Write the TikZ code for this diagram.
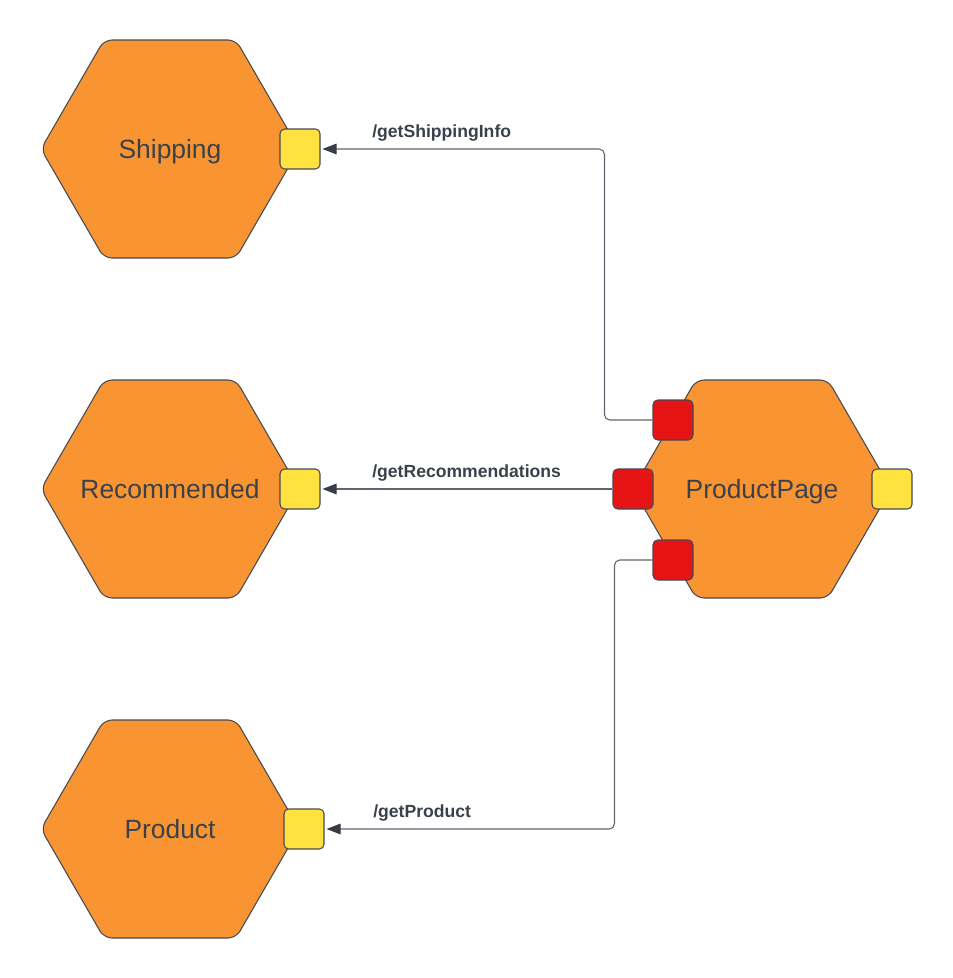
\documentclass[tikz,border=0pt]{standalone}
\usepackage{fontspec}
\setmainfont{Liberation Sans}
\usetikzlibrary{arrows.meta}
\definecolor{hexfill}{RGB}{249,148,51}
\definecolor{portyellow}{RGB}{255,225,64}
\definecolor{portred}{RGB}{230,20,20}
\definecolor{edgegrey}{RGB}{70,74,82}
\definecolor{txt}{RGB}{58,65,74}
\definecolor{linegrey}{RGB}{95,100,110}
\definecolor{tipgrey}{RGB}{55,60,70}
\tikzset{
  hexshape/.style={fill=hexfill, draw=edgegrey, line width=0.8pt, rounded corners=6pt},
  hexlabel/.style={text=txt, font=\fontsize{19.8pt}{23pt}\selectfont, inner sep=0pt, anchor=base},
  port/.style={draw=edgegrey, line width=0.8pt, rounded corners=3.5pt, minimum size=30pt, inner sep=0pt},
  yport/.style={port, fill=portyellow},
  rport/.style={port, fill=portred},
  conn/.style={draw=linegrey, line width=0.8pt, rounded corners=4pt, -{Triangle[length=10.5pt,width=8pt,fill=tipgrey,color=tipgrey]}, color=linegrey},
  lbl/.style={text=txt, font=\bfseries\fontsize{13.2pt}{15pt}\selectfont, anchor=base west, inner sep=0pt}
}
\newcommand{\hexat}[2]{%
  \path[hexshape] (#1-129,#2) -- (#1-66,#2-109) -- (#1+66,#2-109) -- (#1+129,#2) -- (#1+66,#2+109) -- (#1-66,#2+109) -- cycle;}
\begin{document}
\begin{tikzpicture}[x=0.75pt,y=-0.75pt]
\useasboundingbox (0,0) rectangle (953,978);
\hexat{170}{149}
\hexat{170}{489}
\hexat{170}{829}
\hexat{762}{489}
\node[hexlabel] (shipping) at (170,158) {Shipping};
\node[hexlabel] (recommended) at (170,498) {Recommended};
\node[hexlabel] (product) at (170,838) {Product};
\node[hexlabel] (productpage) at (762,498) {ProductPage};
\node[yport] (sp) at (300,149) {};
\node[yport] (rp) at (300,489) {};
\node[yport] (pp) at (304,829) {};
\node[yport] (ppp) at (892,489) {};
\node[rport] (r1) at (673,420) {};
\node[rport] (r2) at (633,489) {};
\node[rport] (r3) at (673,560) {};
\draw[conn] (r1.west) -- ++(-48,0) |- ([xshift=1.5pt]sp.east);
\draw[conn] (r2.west) -- ([xshift=1.5pt]rp.east);
\draw[conn] (r3.west) -- ++(-38,0) |- ([xshift=1.5pt]pp.east);
\node[lbl] (l1) at (372,137) {/getShippingInfo};
\node[lbl] (l2) at (372,477) {/getRecommendations};
\node[lbl] (l3) at (373,817) {/getProduct};
\end{tikzpicture}
\end{document}
